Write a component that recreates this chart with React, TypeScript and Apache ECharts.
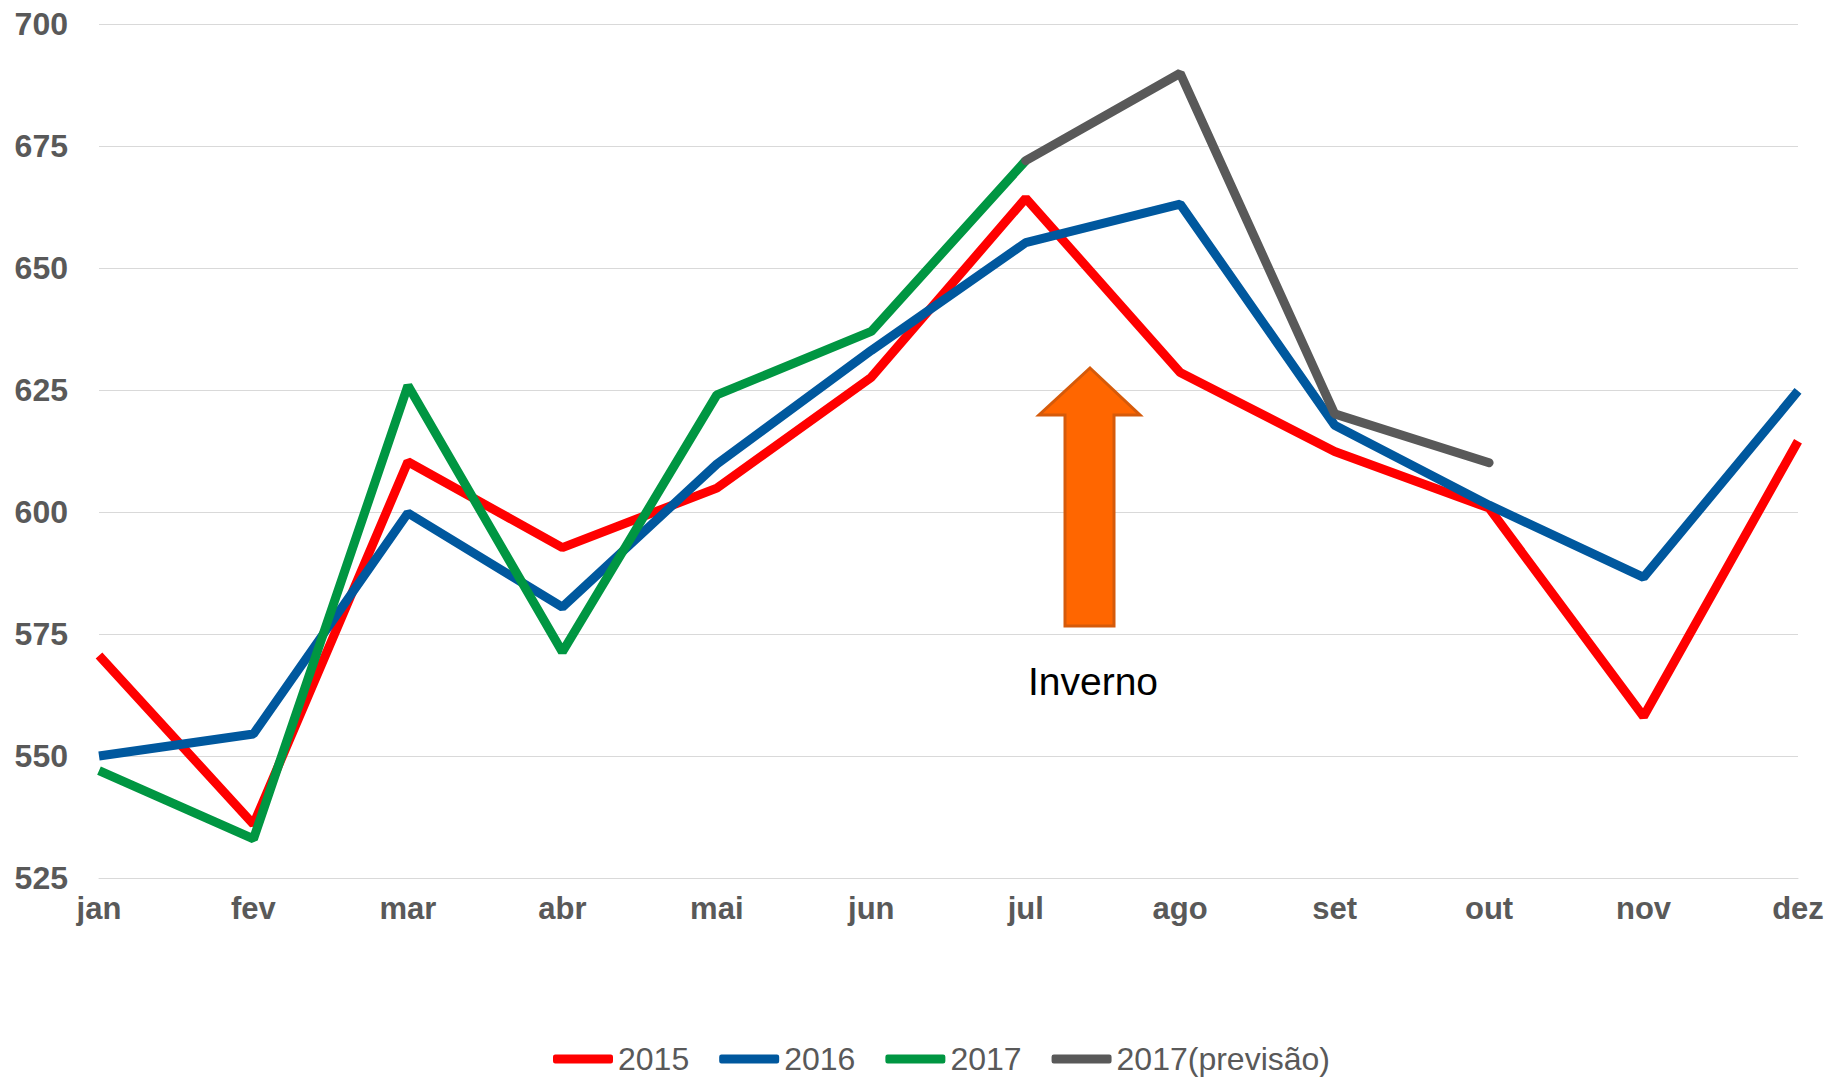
import React, { useEffect, useRef } from "react";
import * as echarts from "echarts";

const months = ["jan", "fev", "mar", "abr", "mai", "jun", "jul", "ago", "set", "out", "nov", "dez"];
const y2015 = [570.6, 536, 610.3, 592.7, 604.9, 627.6, 664.3, 628.6, 612.4, 600.8, 558.1, 614.5];
const y2016 = [550, 554.5, 599.8, 580.5, 609.8, 633.1, 655.2, 663.1, 617.8, 601.4, 586.6, 624.8];
const y2017 = [547, 533, 625.9, 571.3, 624, 637, 672, null, null, null, null, null];
const y2017prev = [null, null, null, null, null, null, 672, 689.9, 620.1, 610.1, null, null];
const seriesNames = ["2015", "2016", "2017", "2017(previsão)"];
const seriesColors = ["#FF0000", "#00589E", "#009642", "#595959"];
const yMin = 525;
const yMax = 700;
const yStep = 25;
const annotationText = "Inverno";

export default function App() {
  const ref = useRef<HTMLDivElement>(null);
  useEffect(() => {
    if (!ref.current) return;
    const chart = echarts.init(ref.current, undefined, { renderer: "svg" });
    const data = [y2015, y2016, y2017, y2017prev];
    chart.setOption({
      animation: false,
      backgroundColor: "#FFFFFF",
      grid: { left: 99, right: 45, top: 24, bottom: 199, containLabel: false },
      legend: {
        left: 553,
        top: 1043,
        padding: 0,
        itemWidth: 60,
        itemHeight: 9,
        itemGap: 30,
        icon: "roundRect",
        data: seriesNames,
        textStyle: {
          fontFamily: "'Liberation Sans', sans-serif",
          fontSize: 32,
          color: "#595959",
          lineHeight: 32,
        },
      },
      xAxis: {
        type: "category",
        data: months,
        boundaryGap: false,
        axisLine: { show: true, lineStyle: { color: "#D9D9D9", width: 1 } },
        axisTick: { show: false },
        axisLabel: {
          margin: 15,
          fontFamily: "'Liberation Sans', sans-serif",
          fontWeight: "bold",
          fontSize: 31,
          color: "#595959",
        },
        splitLine: { show: false },
      },
      yAxis: {
        type: "value",
        min: yMin,
        max: yMax,
        interval: yStep,
        axisLine: { show: false },
        axisTick: { show: false },
        axisLabel: {
          margin: 31,
          fontFamily: "'Liberation Sans', sans-serif",
          fontWeight: "bold",
          fontSize: 32,
          color: "#595959",
        },
        splitLine: { show: true, lineStyle: { color: "#D9D9D9", width: 1 } },
      },
      series: seriesNames.map((name, i) => ({
        name,
        type: "line",
        data: data[i],
        showSymbol: false,
        symbol: "none",
        connectNulls: false,
        color: seriesColors[i],
        lineStyle: { width: 9, color: seriesColors[i], cap: i === 3 ? "round" : "butt" },
        z: 2 + i,
      })),
      graphic: [
        {
          type: "polygon",
          z: 10,
          shape: {
            points: [
              [1090, 368],
              [1140, 415],
              [1114, 415],
              [1114, 626],
              [1065, 626],
              [1065, 415],
              [1039, 415],
            ],
          },
          style: { fill: "#FF6600", stroke: "#D55A0A", lineWidth: 3 },
        },
        {
          type: "text",
          z: 10,
          x: 1093,
          y: 681,
          style: {
            text: annotationText,
            fontFamily: "'Liberation Sans', sans-serif",
            fontSize: 39,
            fill: "#000000",
            align: "center",
            verticalAlign: "middle",
          },
        },
      ],
    });
    return () => chart.dispose();
  }, []);
  return (
    <div
      ref={ref}
      style={{ position: "fixed", left: 0, top: 0, width: 1843, height: 1077, background: "#fff" }}
    />
  );
}
